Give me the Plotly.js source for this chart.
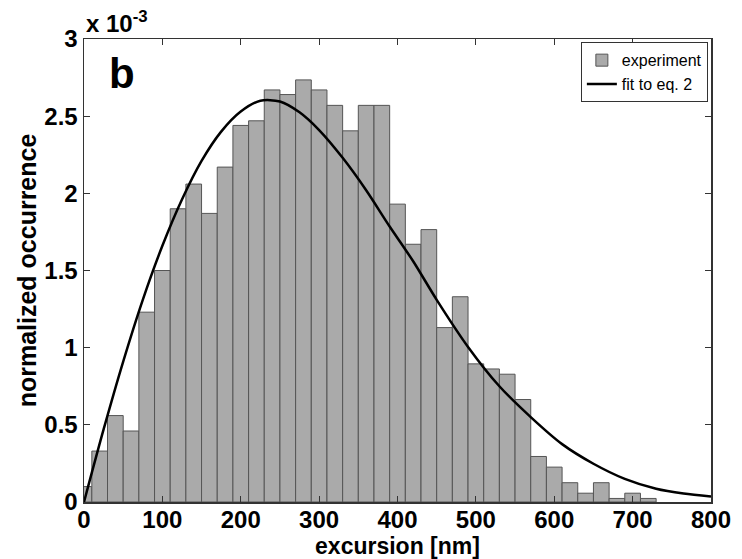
<!DOCTYPE html>
<html>
<head>
<meta charset="utf-8">
<script src="https://cdn.plot.ly/plotly-3.0.1.min.js"></script>
<style>html,body{margin:0;padding:0;background:#fff;}#chart{width:742px;height:559px;}</style>
</head>
<body>
<div id="chart"></div>
<script>
// Histogram bin centres (nm) and normalized occurrence (x 10^-3)
const binCenters = [0,20,40,60,80,100,120,140,160,180,200,220,240,260,280,300,320,340,360,380,400,420,440,460,480,500,520,540,560,580,600,620,640,660,680,700,720];
const occurrence = [0.10,0.33,0.56,0.46,1.23,1.50,1.90,2.06,1.87,2.17,2.44,2.47,2.67,2.64,2.735,2.67,2.57,2.405,2.57,2.57,1.93,1.67,1.765,1.13,1.33,0.895,0.862,0.828,0.664,0.295,0.226,0.125,0.057,0.125,0.023,0.057,0.023];
const binWidth = 20;

// Fit curve points (x 10^-3)
const fitX = [0,25,50,75,100,125,150,175,200,225,250,275,300,330,360,390,420,450,490,530,570,610,650,690,730,765,800];
const fitY = [0,0.47,0.91,1.31,1.66,1.96,2.21,2.40,2.53,2.60,2.595,2.525,2.41,2.23,2.02,1.785,1.56,1.31,1.005,0.75,0.55,0.375,0.248,0.15,0.086,0.055,0.036];

const xTicks = [0,100,200,300,400,500,600,700,800];
const yTicks = [0,0.5,1,1.5,2,2.5,3];
const yTickText = ['0','0.5','1','1.5','2','2.5','3'];

const FONT = '"Liberation Sans", Arial, sans-serif';

const traces = [
  {
    type: 'bar', name: 'experiment',
    x: binCenters, y: occurrence, width: binWidth,
    marker: {color: '#aaaaaa', line: {color: '#555555', width: 1}}
  },
  {
    type: 'scatter', mode: 'lines', name: 'fit to eq. 2',
    x: fitX, y: fitY,
    line: {color: '#000000', width: 2.5, shape: 'spline', smoothing: 0.8}
  }
];

const axisCommon = {
  showgrid: false, zeroline: false, showline: true, mirror: 'ticks',
  linecolor: '#333333', linewidth: 1.5,
  ticks: 'inside', ticklen: 6, tickwidth: 1.2, tickcolor: '#333333',
  tickfont: {family: FONT, size: 24, color: '#000', weight: 'bold'}
};

const layout = {
  width: 742, height: 559,
  margin: {l: 84, r: 31, t: 39, b: 57},
  paper_bgcolor: '#fff', plot_bgcolor: '#fff',
  bargap: 0,
  showlegend: true,
  legend: {
    x: 0.995, y: 0.993, xanchor: 'right', yanchor: 'top',
    bgcolor: '#fff', bordercolor: '#333', borderwidth: 1,
    font: {family: FONT, size: 16, color: '#000'},
    tracegroupgap: 0
  },
  xaxis: Object.assign({}, axisCommon, {
    range: [0, 800], tickvals: xTicks, ticklabelstandoff: -4,
    title: {text: 'excursion [nm]', font: {family: FONT, size: 23, color: '#000', weight: 'bold'}, standoff: 0}
  }),
  yaxis: Object.assign({}, axisCommon, {
    range: [0, 3], tickvals: yTicks, ticktext: yTickText,
    title: {text: 'normalized occurrence', font: {family: FONT, size: 25, color: '#000', weight: 'bold'}, standoff: 0}
  }),
  annotations: [
    {xref: 'paper', yref: 'paper', x: 0, y: 1, xanchor: 'left', yanchor: 'bottom',
     text: 'x 10<sup>-3</sup>', showarrow: false,
     font: {family: FONT, size: 24, color: '#000', weight: 'bold'}},
    {xref: 'paper', yref: 'paper', x: 0.036, y: 0.925, xanchor: 'left', yanchor: 'middle',
     text: 'b', showarrow: false,
     font: {family: FONT, size: 42, color: '#000', weight: 'bold'}}
  ]
};

Plotly.newPlot('chart', traces, layout, {displayModeBar: false, staticPlot: true});
</script>
</body>
</html>
